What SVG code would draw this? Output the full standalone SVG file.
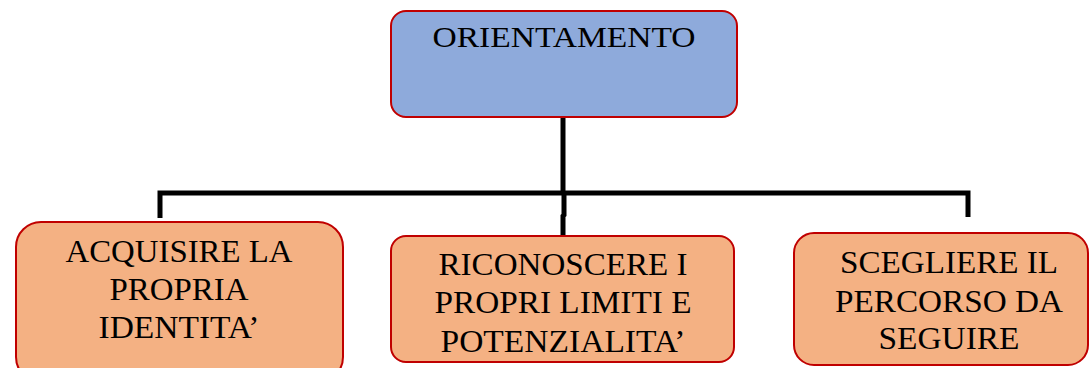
<svg xmlns="http://www.w3.org/2000/svg" width="1089" height="368" viewBox="0 0 1089 368">
<style>
.top{fill:#8EAADB;stroke:#C00000;stroke-width:2}
.sub{fill:#F4B183;stroke:#C00000;stroke-width:2}
.t{font-family:"Liberation Serif","Times New Roman",serif;font-size:31px;fill:#000;text-anchor:middle}
.c{fill:none;stroke:#000;stroke-width:5}
</style>
<rect width="1089" height="368" fill="#fff"/>
<g id="connectors">
<path class="c" d="M563 117V195"/>
<path class="c" d="M160 218V193H968V217"/>
<path class="c" d="M564 193V215L563 216V236"/>
</g>
<g id="n-orientamento">
<rect class="top" x="391" y="11" width="346" height="106" rx="15"/>
<text class="t" x="564" y="47" style="font-size:30px" textLength="263" lengthAdjust="spacingAndGlyphs">ORIENTAMENTO</text>
</g>
<g id="n-acquisire">
<rect class="sub" x="16" y="222" width="327" height="160" rx="25"/>
<text class="t" x="179" y="262" textLength="227" lengthAdjust="spacingAndGlyphs">ACQUISIRE LA</text>
<text class="t" x="179" y="300" textLength="139" lengthAdjust="spacingAndGlyphs">PROPRIA</text>
<text class="t" x="179" y="338" textLength="161" lengthAdjust="spacingAndGlyphs">IDENTITA’</text>
</g>
<g id="n-riconoscere">
<rect class="sub" x="391" y="236" width="343" height="126" rx="15"/>
<text class="t" x="563" y="275" textLength="249" lengthAdjust="spacingAndGlyphs">RICONOSCERE I</text>
<text class="t" x="563" y="313" textLength="257" lengthAdjust="spacingAndGlyphs">PROPRI LIMITI E</text>
<text class="t" x="563" y="352" textLength="245" lengthAdjust="spacingAndGlyphs">POTENZIALITA’</text>
</g>
<g id="n-scegliere">
<rect class="sub" x="794" y="233" width="294" height="132" rx="20"/>
<text class="t" x="949" y="273" textLength="218" lengthAdjust="spacingAndGlyphs">SCEGLIERE IL</text>
<text class="t" x="949" y="312" textLength="228" lengthAdjust="spacingAndGlyphs">PERCORSO DA</text>
<text class="t" x="949" y="349" textLength="141" lengthAdjust="spacingAndGlyphs">SEGUIRE</text>
</g>
</svg>
